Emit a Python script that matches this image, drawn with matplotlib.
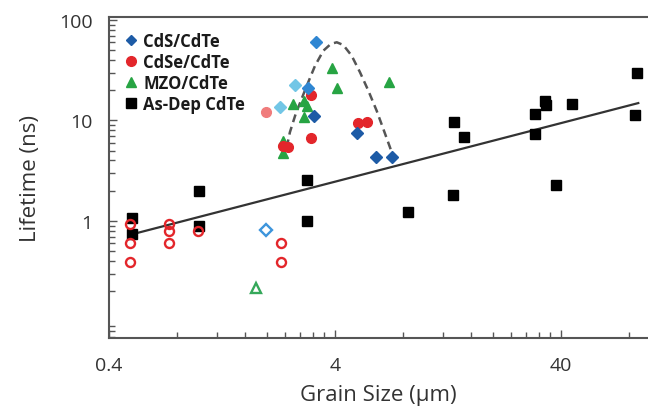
import matplotlib
matplotlib.use("Agg")
import matplotlib.pyplot as plt
from matplotlib.ticker import FixedLocator, NullFormatter, FixedFormatter, LogLocator
from matplotlib.lines import Line2D

plt.rcParams['font.family'] = ['Open Sans', 'DejaVu Sans']

# CdS/CdTe (filled diamonds, three shades)
cds_dark_x = [3.24, 5.00, 6.09, 7.15]
cds_dark_y = [11.2, 7.51, 4.30, 4.30]
cds_mid_x = [3.29, 3.05]
cds_mid_y = [60.8, 21.0]
cds_light_x = [2.67, 2.29]
cds_light_y = [22.7, 13.5]
cds_open_x = [1.98]
cds_open_y = [0.814]

# CdSe/CdTe (filled and open circles)
cdse_x = [3.14, 3.14, 5.08, 5.54, 2.37, 2.48]
cdse_y = [17.9, 6.70, 9.44, 9.60, 5.61, 5.39]
cdse_faint_x = [1.98]
cdse_faint_y = [12.1]
cdse_open_x = [0.496, 0.496, 0.496, 0.741, 0.741, 0.741, 0.991, 2.31, 2.31]
cdse_open_y = [0.934, 0.604, 0.388, 0.934, 0.80, 0.604, 0.79, 0.604, 0.388]

# MZO/CdTe (triangles)
mzo_x = [3.88, 4.08, 6.95, 2.61, 2.93, 3.00, 2.93, 2.35, 2.35]
mzo_y = [33.1, 20.9, 24.3, 14.6, 15.7, 13.8, 10.8, 6.30, 4.75]
mzo_open_x = [1.79]
mzo_open_y = [0.215]

# As-deposited CdTe (squares)
asdep_x = [0.504, 0.504, 1.005, 1.005, 3.02, 3.02, 8.41, 13.3, 13.5, 15.0,
           30.9, 30.9, 34.0, 34.5, 44.9, 38.2, 85.2, 87.2]
asdep_y = [1.06, 0.734, 1.97, 0.898, 2.58, 0.993, 1.24, 1.80, 9.60, 6.90,
           11.6, 7.34, 15.7, 14.4, 14.5, 2.30, 11.3, 29.7]

# Power-law trend for the as-deposited films
trend_x = [0.512, 88.3]
trend_y = [0.742, 14.9]

# Guide-to-the-eye envelope for the treated films
guide_x = [2.45, 2.53, 2.67, 2.85, 3.05, 3.27, 3.56, 3.84, 4.08, 4.36, 4.75,
           5.17, 5.63, 6.13, 6.56, 7.02, 7.22]
guide_y = [5.41, 7.63, 11.2, 16.4, 24.0, 35.1, 49.5, 57.7, 60.0, 56.4, 44.1,
           30.2, 19.8, 12.5, 8.23, 5.41, 4.46]

x_major = [0.4, 4, 40]
x_major_labels = ['0.4', '4', '40']
y_major = [1, 10, 100]
y_major_labels = ['1', '10', '100']

BLUE_DARK = '#1d5ba6'
BLUE_MID = '#2f86d2'
BLUE_LIGHT = '#72c6e6'
RED = '#e3262b'
RED_FAINT = '#f07c7c'
GREEN = '#27a443'
GRAY = '#555555'

fig = plt.figure(figsize=(6.48, 4.10), dpi=100)
ax = fig.add_axes([109 / 648, 71 / 410, 1 - 109 / 648, (339 - 17.7) / 410])
ax.set_xscale('log')
ax.set_yscale('log')
ax.set_xlim(0.4, 97.5)
ax.set_ylim(0.0685, 107.8)

ax.plot(trend_x, trend_y, '-', color='#333333', lw=1.6, zorder=2)
ax.plot(guide_x, guide_y, '--', color='#555555', lw=1.8, dashes=(3.2, 2.0), zorder=2)

ms = 6.8
ax.plot(asdep_x, asdep_y, 's', color='black', ms=ms, ls='none', zorder=3)
ax.plot(cdse_open_x, cdse_open_y, 'o', mfc='none', mec=RED, mew=1.7, ms=6.5, ls='none', zorder=3)
ax.plot(cds_open_x, cds_open_y, 'D', mfc='none', mec='#3d95dc', mew=1.7, ms=5.8, ls='none', zorder=3)
ax.plot(mzo_open_x, mzo_open_y, '^', mfc='none', mec='#35a85a', mew=1.7, ms=7, ls='none', zorder=3)
ax.plot(cdse_faint_x, cdse_faint_y, 'o', color=RED_FAINT, ms=7, ls='none', zorder=3)
ax.plot(cds_light_x, cds_light_y, 'D', color=BLUE_LIGHT, ms=5.8, ls='none', zorder=3)
ax.plot(mzo_x, mzo_y, '^', color=GREEN, ms=7.5, ls='none', zorder=3)
ax.plot(cdse_x, cdse_y, 'o', color=RED, ms=7, ls='none', zorder=4)
ax.plot(cds_mid_x, cds_mid_y, 'D', color=BLUE_MID, ms=5.8, ls='none', zorder=4)
ax.plot(cds_dark_x, cds_dark_y, 'D', color=BLUE_DARK, ms=5.8, ls='none', zorder=4)

# Axis ticks: decades start at 0.4 on x
x_minor = [0.4 * k * 10 ** d for d in range(3) for k in range(2, 10)]
ax.xaxis.set_major_locator(FixedLocator(x_major))
ax.xaxis.set_major_formatter(FixedFormatter(x_major_labels))
ax.xaxis.set_minor_locator(FixedLocator(x_minor))
ax.xaxis.set_minor_formatter(NullFormatter())
ax.yaxis.set_major_locator(FixedLocator(y_major))
ax.yaxis.set_major_formatter(FixedFormatter(y_major_labels))
ax.yaxis.set_minor_locator(LogLocator(base=10, subs=range(2, 10)))
ax.yaxis.set_minor_formatter(NullFormatter())

ax.tick_params(which='both', direction='in', colors=GRAY, labelcolor='#333333',
               top=False, right=False, width=1.0)
ax.tick_params(which='major', length=6, labelsize=14)
ax.tick_params(axis='x', which='major', pad=13)
ax.tick_params(axis='y', which='major', pad=12)
ax.tick_params(which='minor', length=4)
for side in ['left', 'bottom', 'top']:
    ax.spines[side].set_color(GRAY)
    ax.spines[side].set_linewidth(1.5)
ax.spines['right'].set_visible(False)

ax.set_xlabel('Grain Size (µm)', fontsize=16, color='#333333', labelpad=7)
ax.set_ylabel('Lifetime (ns)', fontsize=16, color='#333333', labelpad=13)

handles = [
    Line2D([], [], marker='D', color=BLUE_DARK, ls='none', ms=5.5),
    Line2D([], [], marker='o', color=RED, ls='none', ms=7),
    Line2D([], [], marker='^', color=GREEN, ls='none', ms=7.5),
    Line2D([], [], marker='s', color='black', ls='none', ms=6.8),
]
labels = ['CdS/CdTe', 'CdSe/CdTe', 'MZO/CdTe', 'As-Dep CdTe']
leg = ax.legend(handles, labels, loc='upper left', frameon=False,
                bbox_to_anchor=(0.0, 1.0), handlelength=0.8, handletextpad=0.35,
                labelspacing=0.18, borderaxespad=0.5,
                prop={'family': 'Open Sans', 'weight': 'bold', 'size': 12})
for t in leg.get_texts():
    t.set_color('#1a1a1a')

fig.savefig('out.png', dpi=100)
